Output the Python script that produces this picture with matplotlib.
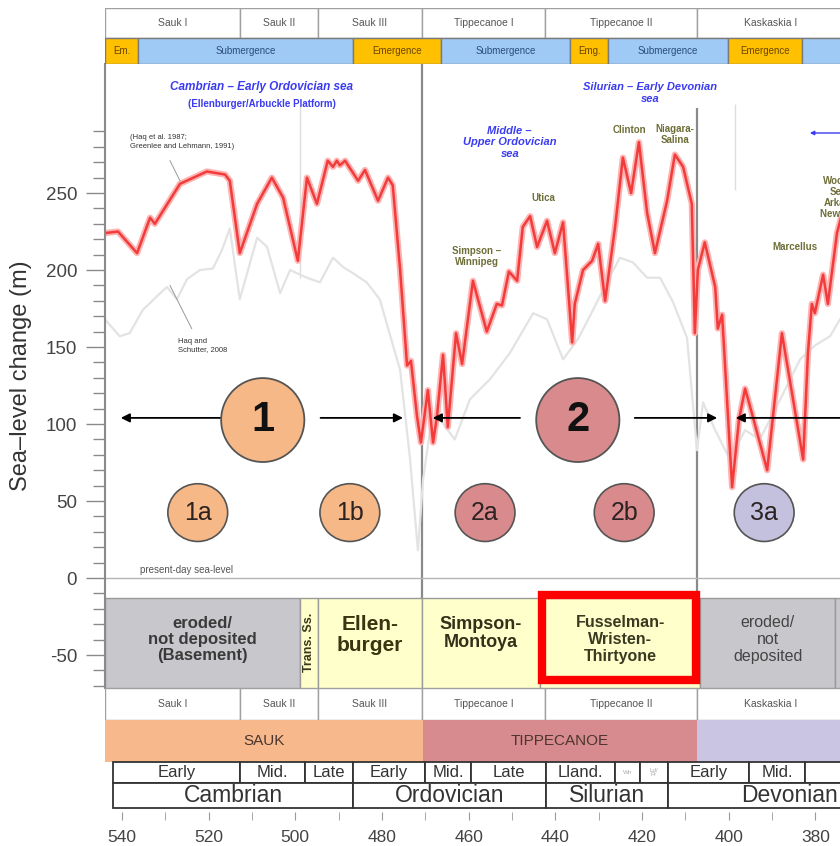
import numpy as np
import matplotlib.pyplot as plt
from matplotlib.patches import Rectangle, Ellipse
from matplotlib.ticker import FixedLocator

plt.rcParams['font.family'] = ['Liberation Sans', 'DejaVu Sans']
plt.rcParams['axes.unicode_minus'] = False

# Sea-level curve (Haq et al. 1987; Greenlee and Lehmann 1991), age in Ma, level in m
haq_age = [543.9, 540.9, 536.5, 533.5, 532.4, 526.6, 520.4, 516.2, 515.1, 512.8,
           508.8, 505.4, 502.8, 499.4, 497.3, 495.0, 492.5, 491.3, 490.4, 489.7,
           488.5, 485.5, 483.9, 480.9, 478.6, 477.5, 475.8, 474.2, 473.3, 471.9,
           471.0, 469.4, 468.2, 467.3, 465.9, 464.8, 462.9, 461.5, 459.0, 455.8,
           453.5, 452.3, 450.7, 448.8, 447.5, 445.8, 444.2, 441.9, 440.1, 438.2,
           436.1, 435.5, 433.6, 431.5, 430.1, 428.5, 426.2, 424.4, 422.5, 420.7,
           418.8, 417.0, 414.2, 412.4, 410.5, 408.5, 407.8, 407.1, 405.5, 403.1,
           402.5, 401.5, 399.2, 397.6, 396.2, 395.3, 391.1, 387.7, 382.8, 381.7,
           380.8, 380.1, 378.2, 377.1, 375.0, 373.5]
haq_level = [224, 225, 211, 234, 230, 256, 264, 262, 258, 211,
             243, 260, 247, 206, 260, 243, 271, 267, 271, 268,
             271, 258, 265, 245, 260, 255, 200, 138, 141, 105,
             88, 122, 88, 105, 145, 98, 159, 139, 193, 160,
             178, 177, 199, 193, 228, 235, 215, 232, 211, 231,
             153, 178, 200, 206, 217, 180, 228, 273, 250, 283,
             237, 211, 245, 275, 267, 243, 159, 200, 218, 189,
             162, 171, 59, 103, 123, 114, 70, 159, 77, 146,
             178, 172, 197, 178, 224, 240]

# Haq and Schutter 2008 curve
hs_age = [543.9, 540.5, 538.2, 535.2, 531.9, 529.6, 527.3, 525.0, 522.0, 519.0,
          516.9, 515.1, 512.8, 508.8, 506.5, 503.5, 501.2, 497.3, 494.3, 491.3,
          489.0, 486.7, 483.5, 480.5, 475.8, 473.5, 471.7, 470.5, 468.9, 466.6,
          463.2, 459.7, 455.1, 450.5, 445.1, 441.9, 438.2, 434.8, 431.3, 428.1,
          425.1, 422.1, 418.8, 415.8, 412.8, 409.6, 407.3, 405.9, 403.1, 399.7,
          396.2, 392.8, 388.1, 383.5, 380.1, 376.6, 374.3]
hs_level = [168, 157, 159, 174, 183, 189, 181, 194, 200, 201,
            213, 227, 181, 221, 215, 185, 200, 195, 192, 208,
            202, 198, 192, 181, 135, 77, 18, 64, 96, 103,
            90, 116, 129, 146, 172, 168, 142, 155, 174, 192,
            208, 205, 195, 195, 179, 156, 83, 114, 96, 77,
            96, 90, 116, 142, 151, 157, 168]

# Sloss sequences
seq_names = ['Sauk I', 'Sauk II', 'Sauk III', 'Tippecanoe I', 'Tippecanoe II', 'Kaskaskia I']
seq_edges = [543.9, 512.8, 494.8, 470.8, 442.4, 407.3, 373.5]

# submergence / emergence phases
phase_names = ['Em.', 'Submergence', 'Emergence', 'Submergence', 'Emg.', 'Submergence', 'Emergence', '']
phase_sub = [False, True, False, True, False, True, False, True]
phase_edges = [543.9, 536.3, 486.7, 466.4, 436.6, 427.8, 400.1, 383.1, 370.0]

# supersequences
super_names = ['SAUK', 'TIPPECANOE', '']
super_edges = [543.9, 470.5, 407.3, 370.0]
super_colors = ['#f7b98b', '#d88b8e', '#c9c5e3']

# geologic time scale
epoch_names = ['Early', 'Mid.', 'Late', 'Early', 'Mid.', 'Late', 'Lland.', 'Wn', 'Ld/\nPr',
               'Early', 'Mid.', '']
epoch_edges = [542.0, 512.8, 497.8, 486.7, 470.1, 459.4, 442.2, 426.2, 420.5, 414.0,
               395.3, 382.4, 358.0]
period_names = ['Cambrian', 'Ordovician', 'Silurian', 'Devonian']
period_edges = [542.0, 486.7, 442.2, 414.0, 358.0]

# Permian Basin rock units
unit_names = ['eroded/\nnot deposited\n(Basement)', 'Trans. Ss.', 'Ellen-\nburger',
              'Simpson-\nMontoya', 'Fusselman-\nWristen-\nThirtyone',
              'eroded/\nnot\ndeposited', '']
unit_edges = [543.9, 498.9, 494.8, 470.8, 443.5, 406.6, 375.4, 360.0]
unit_gap = [True, False, False, False, False, True, True]

# transgressive-regressive cycles
cycle_labels = ['1', '2']
cycle_age = [507.5, 434.8]
cycle_colors = ['#f7b887', '#d98a8c']
sub_labels = ['1a', '1b', '2a', '2b', '3a']
sub_age = [522.5, 487.4, 456.2, 424.1, 391.8]
sub_colors = ['#f7b887', '#f7b887', '#d98a8c', '#d98a8c', '#c4c1de']

W, H = 840, 846
fig = plt.figure(figsize=(W / 100, H / 100), dpi=100)


def box(l, t, r, b):
    return [l / W, 1 - b / H, (r - l) / W, (b - t) / H]


ax = fig.add_axes(box(105, 64, 840, 688))
ax_top = fig.add_axes(box(105, 8, 840, 64), sharex=ax)
ax_bot = fig.add_axes(box(105, 688, 840, 812), sharex=ax)

ax.set_xlim(543.9, 374.3)
ax.set_ylim(-71.4, 333.8)

# ---- main panel ----
for s in ['top', 'right', 'bottom']:
    ax.spines[s].set_visible(False)
ax.spines['left'].set_color('#8a8a8a')
ax.spines['left'].set_linewidth(1.5)
ax.yaxis.set_major_locator(FixedLocator([-50, 0, 50, 100, 150, 200, 250]))
ax.yaxis.set_minor_locator(FixedLocator(list(range(-70, 300, 10))))
ax.tick_params(axis='y', which='major', length=14, width=1, color='#8a8a8a',
               labelsize=13.5, labelcolor='#444444', pad=6)
ax.tick_params(axis='y', which='minor', length=9, width=1, color='#8a8a8a')
ax.tick_params(axis='x', bottom=False, labelbottom=False)
ax.set_ylabel('Sea–level change (m)', fontsize=17, color='#333333', labelpad=10)

ax.axhline(0, color='#b5b5b5', lw=1)
ax.text(535.8, 5, 'present-day sea-level', fontsize=7, color='#555555', va='center')

# rock units
for i, name in enumerate(unit_names):
    a0, a1 = unit_edges[i], unit_edges[i + 1]
    fc = '#c8c8cc' if unit_gap[i] else '#ffffcc'
    ax.add_patch(Rectangle((a1, -71.4), a0 - a1, 58.4, facecolor=fc,
                           edgecolor='#9a9a9a', lw=1, zorder=2))
    c = (a0 + a1) / 2
    if name == 'Trans. Ss.':
        ax.text(c, -42, name, rotation=90, ha='center', va='center', fontsize=9,
                fontweight='bold', color='#3a3a1a', zorder=3)
    elif name.startswith('Ellen'):
        ax.text(c, -37, name, ha='center', va='center', fontsize=15,
                fontweight='bold', color='#3a3410', linespacing=1.1, zorder=3)
    elif name.startswith('Simpson'):
        ax.text(c, -36, name, ha='center', va='center', fontsize=13,
                fontweight='bold', color='#33301a', linespacing=1.1, zorder=3)
    elif name.startswith('Fussel'):
        ax.text(c, -40, name, ha='center', va='center', fontsize=11.5,
                fontweight='bold', color='#3a3a22', linespacing=1.15, zorder=3)
    elif name.startswith('eroded/\nnot deposited'):
        ax.text(c, -40, name, ha='center', va='center', fontsize=12,
                fontweight='bold', color='#3a3a3a', linespacing=1.1, zorder=3)
    elif name:
        ax.text(c, -40, name, ha='center', va='center', fontsize=11.5,
                color='#444444', linespacing=1.15, zorder=3)

# highlight box
ax.add_patch(Rectangle((407.5, -66.2), 443.1 - 407.5, 55.2, facecolor='none',
                       edgecolor='#ff0000', lw=6, zorder=4, clip_on=False))

# sequence boundaries
ax.vlines(470.8, -71.4, 333.8, color='#8a8a8a', lw=1.6, zorder=1)
ax.vlines(407.3, -71.4, 305, color='#8a8a8a', lw=1.6, zorder=1)
ax.vlines(498.9, 195, 307, color='#dddddd', lw=1, zorder=1)
ax.vlines(398.5, 252, 308, color='#dddddd', lw=1, zorder=1)

# curves
ax.plot(hs_age, hs_level, color='#e3e3e3', lw=1.6, zorder=1)
ax.plot(haq_age, haq_level, color='#ffb3b3', lw=4.5, solid_joinstyle='round',
        solid_capstyle='round', zorder=2)
ax.plot(haq_age, haq_level, color='#f23b3b', lw=1.8, solid_joinstyle='round', zorder=2)

# curve sources
ax.text(538.2, 283, '(Haq et al. 1987;\nGreenlee and Lehmann, 1991)', fontsize=5.5,
        color='#333333', va='center', linespacing=1.3)
ax.plot([528.9, 526.6], [271, 258], color='#999999', lw=0.7)
ax.text(527.1, 151, 'Haq and\nSchutter, 2008', fontsize=5.5, color='#333333',
        va='center', linespacing=1.3)
ax.plot([528.9, 523.9], [190, 162], color='#999999', lw=0.7)

# seaway labels
blue = '#3b3bf2'
ax.text(507.7, 319, 'Cambrian – Early Ordovician sea', fontsize=8.5, color=blue,
        fontweight='bold', fontstyle='italic', ha='center', va='center')
ax.text(507.7, 308, '(Ellenburger/Arbuckle Platform)', fontsize=7, color=blue,
        fontweight='bold', ha='center', va='center')
ax.text(450.5, 283, 'Middle –\nUpper Ordovician\nsea', fontsize=8, color=blue,
        fontweight='bold', fontstyle='italic', ha='center', va='center', linespacing=1.2)
ax.text(418.1, 315, 'Silurian – Early Devonian\nsea', fontsize=8, color=blue,
        fontweight='bold', fontstyle='italic', ha='center', va='center', linespacing=1.2,
        bbox=dict(facecolor='white', edgecolor='none', pad=1))
ax.annotate('', xy=(381.9, 289), xytext=(373.0, 289),
            arrowprops=dict(arrowstyle='-|>', color=blue, lw=1, mutation_scale=6))

# formation labels on the curve
olive = '#6e6e38'
for txt, a, v in [('Clinton', 423.0, 291), ('Niagara-\nSalina', 412.4, 288),
                  ('Utica', 442.8, 247), ('Simpson –\nWinnipeg', 458.1, 209),
                  ('Marcellus', 384.7, 215),
                  ('Woodford/\nSellers/\nArkansas/\nNew Albany', 372.6, 247)]:
    ax.text(a, v, txt, fontsize=7, color=olive, fontweight='bold', ha='center',
            va='center', linespacing=1.15)

# cycle arrows
arrow_kw = dict(arrowstyle='-|>', color='black', lw=1.3, mutation_scale=13)
for tail, head in [(516.2, 540.9), (494.8, 474.5), (447.5, 468.9), (422.3, 402.0),
                   (372.5, 399.0)]:
    ax.annotate('', xy=(head, 104), xytext=(tail, 104), arrowprops=arrow_kw)

for lab, a, col in zip(cycle_labels, cycle_age, cycle_colors):
    ax.add_patch(Ellipse((a, 102.6), 19.2, 54.5, facecolor=col, edgecolor='#555555',
                         lw=1.3, zorder=3))
    ax.text(a, 102.6, lab, fontsize=30, fontweight='bold', ha='center', va='center',
            color='#111111', zorder=4)

for lab, a, col in zip(sub_labels, sub_age, sub_colors):
    ax.add_patch(Ellipse((a, 42.5), 13.8, 37.5, facecolor=col, edgecolor='#555555',
                         lw=1.2, zorder=3))
    ax.text(a, 42.5, lab, fontsize=18, ha='center', va='center', color='#2b2222',
            zorder=4)

# ---- header ----
ax_top.set_ylim(0, 56)
ax_top.axis('off')
for i, name in enumerate(seq_names):
    a0, a1 = seq_edges[i], seq_edges[i + 1]
    ax_top.add_patch(Rectangle((a1, 26), a0 - a1, 30, facecolor='white',
                               edgecolor='#a0a0a0', lw=1))
    ax_top.text((a0 + a1) / 2, 41, name, fontsize=7.5, color='#555555',
                ha='center', va='center')
for i, name in enumerate(phase_names):
    a0, a1 = phase_edges[i], phase_edges[i + 1]
    fc = '#9fcaf5' if phase_sub[i] else '#ffc000'
    ax_top.add_patch(Rectangle((a1, 0), a0 - a1, 26, facecolor=fc,
                               edgecolor='#7a7a7a', lw=1))
    ax_top.text((a0 + a1) / 2, 13, name, fontsize=7,
                color='#2a4e7c' if phase_sub[i] else '#6a4600',
                ha='center', va='center')

# ---- sequences and time scale ----
ax_bot.set_ylim(-4, 120)
for s in ['top', 'right', 'bottom', 'left']:
    ax_bot.spines[s].set_visible(False)
ax_bot.set_yticks([])
for i, name in enumerate(seq_names):
    a0, a1 = seq_edges[i], seq_edges[i + 1]
    ax_bot.add_patch(Rectangle((a1, 88), a0 - a1, 32, facecolor='white',
                               edgecolor='#a0a0a0', lw=1))
    ax_bot.text((a0 + a1) / 2, 104, name, fontsize=7.5, color='#555555',
                ha='center', va='center')
for i, name in enumerate(super_names):
    a0, a1 = super_edges[i], super_edges[i + 1]
    ax_bot.add_patch(Rectangle((a1, 46), a0 - a1, 42, facecolor=super_colors[i],
                               edgecolor='none'))
    ax_bot.text((a0 + a1) / 2, 67, name, fontsize=11, color='#4a3530',
                ha='center', va='center')
for i, name in enumerate(epoch_names):
    a0, a1 = epoch_edges[i], epoch_edges[i + 1]
    ax_bot.add_patch(Rectangle((a1, 25), a0 - a1, 21, facecolor='white',
                               edgecolor='#333333', lw=1.3))
    small = len(name) <= 2 or '/' in name
    ax_bot.text((a0 + a1) / 2, 35.5, name, fontsize=4.5 if small else 12,
                color='#aaaaaa' if small else '#333333', ha='center', va='center',
                linespacing=0.9)
for i, name in enumerate(period_names):
    a0, a1 = period_edges[i], period_edges[i + 1]
    ax_bot.add_patch(Rectangle((a1, 0), a0 - a1, 25, facecolor='white',
                               edgecolor='#333333', lw=1.3))
    ax_bot.text((a0 + a1) / 2, 12.5, name, fontsize=16.5, color='#333333',
                ha='center', va='center')

ax_bot.xaxis.set_major_locator(FixedLocator(list(range(540, 370, -20))))
ax_bot.xaxis.set_minor_locator(FixedLocator(list(range(540, 370, -10))))
ax_bot.tick_params(axis='x', which='both', length=6, color='#999999', direction='out')
ax_bot.tick_params(axis='x', which='major', labelsize=12.5, labelcolor='#444444', pad=7)

fig.savefig('out.png', dpi=100)
